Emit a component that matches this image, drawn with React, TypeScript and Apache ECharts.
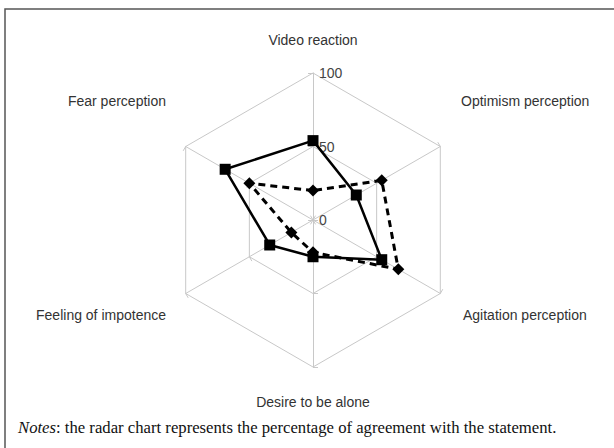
import React, { useEffect, useRef } from "react";
import * as echarts from "echarts";

// Indicators listed counter-clockwise from the top (ECharts radar order)
const indicatorNames = [
  "Video reaction",
  "Fear perception",
  "Feeling of impotence",
  "Desire to be alone",
  "Agitation perception",
  "Optimism perception",
];
const seriesSolid = [54, 69, 34, 25, 54, 34];
const seriesDashed = [20, 50, 17, 22, 67, 54];
const tickLabels = [0, 50, 100];

const labelPositions: Record<string, [number, number, string]> = {
  "Video reaction": [313, 40, "center"],
  "Fear perception": [166, 101, "right"],
  "Feeling of impotence": [166, 315, "right"],
  "Desire to be alone": [313, 402, "center"],
  "Agitation perception": [463, 315, "left"],
  "Optimism perception": [461, 101, "left"],
};

export default function App() {
  const ref = useRef<HTMLDivElement>(null);
  useEffect(() => {
    if (!ref.current) return;
    const chart = echarts.init(ref.current, undefined, { renderer: "svg" });
    const maxV = tickLabels[tickLabels.length - 1];
    const grey = "#c8c8c8";
    chart.setOption({
      animation: false,
      backgroundColor: "#fff",
      radar: {
        center: [313, 220],
        radius: 147,
        shape: "polygon",
        splitNumber: tickLabels.length - 1,
        startAngle: 90,
        axisName: { show: false },
        splitArea: { show: false },
        splitLine: { lineStyle: { color: grey, width: 1 } },
        axisLine: { lineStyle: { color: grey, width: 1 } },
        axisTick: { show: true, length: 5, lineStyle: { color: grey } },
        axisLabel: { show: false },
        indicator: indicatorNames.map((n, i) =>
          i === 0
            ? {
                name: n,
                min: 0,
                max: maxV,
                axisLabel: {
                  show: true,
                  color: "#444",
                  fontSize: 14,
                  fontFamily: "Liberation Sans, Arial, sans-serif",
                  margin: -6,
                  align: "left",
                  showMinLabel: true,
                },
              }
            : { name: n, min: 0, max: maxV }
        ),
      },
      series: [
        {
          type: "radar",
          symbolSize: 11,
          data: [
            {
              value: seriesSolid,
              name: "Solid",
              symbol: "rect",
              lineStyle: { color: "#000", width: 2.5, type: "solid" },
              itemStyle: { color: "#000" },
            },
            {
              value: seriesDashed,
              name: "Dashed",
              symbol: "diamond",
              symbolSize: 12,
              lineStyle: { color: "#000", width: 3, type: [7, 5] },
              itemStyle: { color: "#000" },
            },
          ],
        },
      ],
      graphic: [
        {
          type: "rect",
          shape: { x: 5, y: 9, width: 630, height: 460 },
          style: { fill: "none", stroke: "#555", lineWidth: 1.5 },
          silent: true,
        },
        ...indicatorNames.map((n) => {
          const p = labelPositions[n];
          return {
            type: "text",
            x: p[0],
            y: p[1],
            style: {
              text: n,
              fill: "#333",
              font: "14px 'Liberation Sans', Arial, sans-serif",
              align: p[2],
              verticalAlign: "middle",
            },
          };
        }),
        {
          type: "text",
          x: 18,
          y: 427,
          style: {
            text: "{i|Notes}: the radar chart represents the percentage of agreement with the statement.",
            rich: {
              i: {
                font: "italic 16.7px 'Liberation Serif', 'Times New Roman', serif",
                fill: "#111",
              },
            },
            fill: "#111",
            font: "16.7px 'Liberation Serif', 'Times New Roman', serif",
            verticalAlign: "middle",
          },
        },
      ],
    });
    return () => chart.dispose();
  }, []);
  return (
    <div
      ref={ref}
      style={{ position: "absolute", left: 0, top: 0, width: 614, height: 448 }}
    />
  );
}
